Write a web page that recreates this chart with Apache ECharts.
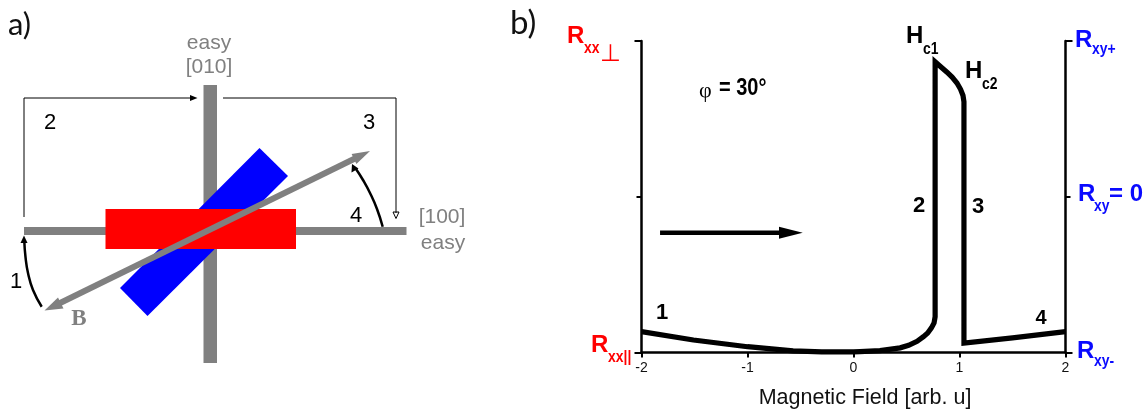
<!DOCTYPE html>
<html><head><meta charset="utf-8">
<script src="https://cdn.jsdelivr.net/npm/echarts@6/dist/echarts.min.js"></script>
<style>html,body{margin:0;padding:0;background:#fff}#c{width:1146px;height:413px}</style>
</head><body><div id="c"></div>
<script>
// Panel b: measured curve
const fieldValues = [-2,-1.51,-1.0,-0.57,-0.3,0,0.06,0.25,0.44,0.52,0.6,0.66,0.7,0.735,0.76,0.77,0.77,0.82,0.882,0.93,0.976,1.01,1.033,1.042,1.042,1.05,1.5,2];
const resistanceValues = [0.067,0.04,0.0186,0.0055,0.002,0.002,0.003,0.006,0.015,0.023,0.036,0.051,0.0626,0.079,0.095,0.115,0.933,0.918,0.9,0.884,0.865,0.845,0.825,0.805,0.03,0.027,0.047,0.067];
const xTicks = [-2,-1,0,1,2];
const xAxisTitle = 'Magnetic Field [arb. u]';
const sweepArrowShaft = [[-1.825,0.3846],[-0.65,0.3846]];
const sweepArrowHead = [[-0.479,0.3846],[-0.703,0.404],[-0.703,0.365]];

// Panel a: schematic, in picture units
const barVertical = [[203.5,85],[217,85],[217,363],[203.5,363]];
const barHorizontal = [[24,227],[406.5,227],[406.5,235],[24,235]];
const blueBar = [[259.5,148],[288,176],[147.5,316],[120,288]];
const redBar = [[105.5,209],[296,209],[296,249],[105.5,249]];
const fieldLine = [[358,157],[55,305.5]];
const fieldHeadUp = [[370,151],[351.6,154.1],[356.4,163.9]];
const fieldHeadDown = [[44.5,310.5],[58,297.5],[63.5,308.5]];
const sweepPathLeft = [[24,217],[24,98],[191,98]];
const sweepPathRight = [[223,98],[396,98],[396,213]];
const pathHeadLeft = [[197.5,98],[190,95],[190,101]];
const pathHeadRight = [[396,218.5],[393,212],[399,212]];
const arcOne = [[41.7,306.7],[33,290],[28,273],[25.5,257],[24.3,241]];
const arcOneHead = [[24,235.5],[20.5,243],[27.5,243]];
const arcFour = [[382.7,226.7],[377,209],[370,193],[363,180],[356,169]];
const arcFourHead = [[352,164],[351.5,172.5],[358.5,168.5]];

const SANS = '"Liberation Sans"';
const SOFT = 'Lato';
const RED = '#ff0000', BLUE = '#0a0aff', GREY = '#808080', INK = '#000000';
// text, left x, middle y, size, colour, weight, family, align, horizontal squeeze
const textMarks = [
  ['a)',8,25,31,'#111','normal',SOFT],
  ['b)',510,23,33,'#111','normal',SOFT],
  ['easy',209,43,21,GREY,'normal',SANS,'center'],
  ['[010]',209,67,21,GREY,'normal',SANS,'center'],
  ['[100]',442,217,21,GREY,'normal',SANS,'center'],
  ['easy',443,243,21,GREY,'normal',SANS,'center'],
  ['2',50,123,22,INK,'normal',SANS,'center'],
  ['3',369,123,22,INK,'normal',SANS,'center'],
  ['4',356,216,22,INK,'normal',SANS,'center'],
  ['1',16,282,22,INK,'normal',SANS,'center'],
  ['B',79,319,23,GREY,'bold','"Liberation Serif"','center'],
  ['R',567,36,24,RED,'bold',SANS],
  ['xx',584,49,16,RED,'bold',SANS,'left',0.87],
  ['⊥',600,55,24,RED,'normal','"DejaVu Sans"'],
  ['R',591,345,24,RED,'bold',SANS],
  ['xx||',608,358,16,RED,'bold',SANS,'left',0.87],
  ['R',1075,40,24,BLUE,'bold',SANS],
  ['xy+',1092,50,16,BLUE,'bold',SANS,'left',0.87],
  ['R',1078,194,24,BLUE,'bold',SANS],
  ['xy',1094,207,16,BLUE,'bold',SANS,'left',0.87],
  ['= 0',1109,194,24,BLUE,'bold',SANS],
  ['R',1077,351,24,BLUE,'bold',SANS],
  ['xy-',1094,362,16,BLUE,'bold',SANS,'left',0.87],
  ['φ',699,91,22,INK,'normal','"Liberation Serif"'],
  ['= 30°',719,89,23,INK,'bold',SANS,'left',0.87],
  ['H',906,36,24,INK,'bold',SANS],
  ['c1',923,50,16,INK,'bold',SANS,'left',0.87],
  ['H',965,71,24,INK,'bold',SANS],
  ['c2',982,85,16,INK,'bold',SANS,'left',0.87],
  ['1',662,313,22,INK,'bold',SANS,'center'],
  ['2',919,206,22,INK,'bold',SANS,'center'],
  ['3',978,207,22,INK,'bold',SANS,'center'],
  ['4',1041,318,20,INK,'bold',SANS,'center']
];

function polygon(name, pts, fill, stroke, xi, yi) {
  return {
    type:'custom', name, xAxisIndex:xi===undefined?1:xi, yAxisIndex:yi===undefined?2:yi, clip:false, silent:true,
    data:pts,
    encode:{x:0,y:1},
    renderItem(params, api){
      if (params.dataIndex !== 0) return null;
      return {type:'polygon', shape:{points:pts.map(p=>api.coord(p))},
        style:{fill, stroke:stroke||null, lineWidth:stroke?1:0}};
    }
  };
}
function path(name, pts, width, color, smooth, xi, yi) {
  return {type:'line', name, xAxisIndex:xi===undefined?1:xi, yAxisIndex:yi===undefined?2:yi, data:pts, symbol:'none',
    smooth:!!smooth, clip:false, silent:true, animation:false,
    lineStyle:{width, color, cap:'butt', join:'miter'}};
}

const chart = echarts.init(document.getElementById('c'), null, {renderer:'canvas'});
chart.setOption({
  animation:false,
  backgroundColor:'#fff',
  grid:[
    {left:641.5, right:80.5, top:41, bottom:60.5, containLabel:false, outerBoundsMode:'none'},
    {left:0, top:0, width:1146, height:413, outerBoundsMode:'none'}
  ],
  xAxis:[
    {type:'value', gridIndex:0, min:-2, max:2, interval:1,
     axisLine:{onZero:false, lineStyle:{color:INK,width:2.5}},
     axisTick:{length:5, lineStyle:{color:INK,width:2}},
     axisLabel:{color:'#111', fontFamily:SANS, fontSize:14, margin:9,
       customValues:xTicks},
     splitLine:{show:false},
     name:xAxisTitle, nameLocation:'middle', nameGap:35,
     nameTextStyle:{fontFamily:SANS, fontSize:21.5, color:'#111', padding:[0,0,0,23]}},
    {type:'value', gridIndex:1, min:0, max:1146, show:false}
  ],
  yAxis:[
    {type:'value', gridIndex:0, min:0, max:1, interval:1, position:'left',
     axisLine:{show:true, onZero:false, lineStyle:{color:INK,width:2.5}},
     axisTick:{show:true, length:7, lineStyle:{color:INK,width:2}},
     minorTick:{show:true, splitNumber:2, length:5, lineStyle:{color:INK,width:2}},
     axisLabel:{show:false}, splitLine:{show:false}},
    {type:'value', gridIndex:0, min:0, max:1, interval:1, position:'right',
     axisLine:{show:true, onZero:false, lineStyle:{color:INK,width:2.5}},
     axisTick:{show:true, length:7, lineStyle:{color:INK,width:2}},
     minorTick:{show:true, splitNumber:2, length:5, lineStyle:{color:INK,width:2}},
     axisLabel:{show:false}, splitLine:{show:false}},
    {type:'value', gridIndex:1, min:0, max:413, inverse:true, show:false}
  ],
  series:[
    polygon('vertical easy axis', barVertical, GREY),
    polygon('horizontal easy axis', barHorizontal, GREY),
    polygon('blue bar', blueBar, '#0000ff'),
    polygon('red bar', redBar, '#ff0000'),
    path('field', fieldLine, 6, GREY),
    polygon('field head up', fieldHeadUp, GREY),
    polygon('field head down', fieldHeadDown, GREY),
    path('sweep left', sweepPathLeft, 1, INK),
    path('sweep right', sweepPathRight, 1, INK),
    polygon('sweep head left', pathHeadLeft, INK),
    polygon('sweep head right', pathHeadRight, '#fff', INK),
    path('arc 1', arcOne, 2.5, INK, true),
    polygon('arc 1 head', arcOneHead, INK),
    path('arc 4', arcFour, 2.5, INK, true),
    polygon('arc 4 head', arcFourHead, INK),
    {type:'line', name:'Hysteresis', xAxisIndex:0, yAxisIndex:0,
     data:fieldValues.map((x,i)=>[x,resistanceValues[i]]),
     symbol:'none', clip:false, silent:true, z:5,
     lineStyle:{width:5.2, color:INK, join:'miter', miterLimit:20, cap:'butt'}},
    path('sweep arrow', sweepArrowShaft, 4.5, INK, false, 0, 0),
    polygon('sweep arrow head', sweepArrowHead, INK, null, 0, 0)
  ],
  graphic:textMarks.map(t=>({type:'text', x:t[1], y:t[2], z:100, silent:true, scaleX:t[8]||1,
    style:{text:t[0], fontSize:t[3], fill:t[4], fontWeight:t[5], fontFamily:t[6],
      align:t[7]||'left', verticalAlign:'middle'}}))
});
</script></body></html>
